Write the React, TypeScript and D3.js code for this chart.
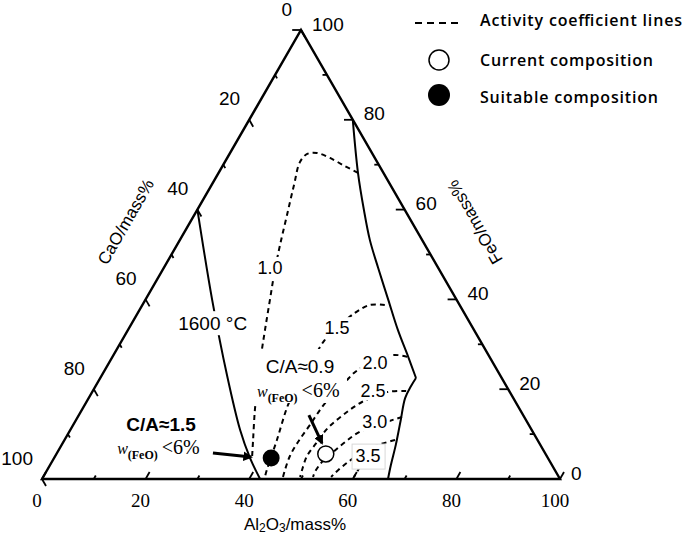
import React from 'react';
import * as d3 from 'd3';

// All compositions given as [Al2O3, FeO] in mass%; CaO = 100 - Al2O3 - FeO
type P = [number, number];

const tickValues = d3.range(0, 101, 10);
const labelValues = [0, 20, 40, 60, 80, 100];

const liquidusLeft: P[] = [[0, 60], [12.9, 39.9], [24.1, 23.2], [32.8, 10.9], [37.8, 4.7], [42.1, 0]];
const liquidusRightUpper: P[] = [[20, 80], [26.9, 68.2], [32.2, 59.9], [36.7, 53.2], [41.4, 47.0], [46.9, 39.9], [52.1, 33.2], [57.1, 27.2], [60.95, 22.5]];
const liquidusRightLower: P[] = [[60.95, 22.5], [60.9, 20.7], [61.1, 18.0], [62.7, 13.1], [64.5, 7.6], [65.8, 3.1], [66.8, 0]];

const gamma10: P[] = [[26.9, 68.2], [23.6, 69.7], [19.85, 71.5], [16.8, 72.6], [15.0, 72.4], [14.5, 70.6], [15.9, 65.5], [17.9, 58.8], [19.9, 52.1], [21.7, 46.5], [24.05, 39.9], [26.45, 33.2], [28.5, 27.6], [30.7, 22.05], [33.4, 15.4], [36.4, 8.7], [38.2, 4.7]];
const gamma15: P[] = [[46.8, 38.75], [43.9, 38.75], [41.9, 37.0], [40.15, 33.6], [39.1, 31.0], [39.0, 25.4], [38.95, 20.9], [39.25, 16.5], [41.0, 8.7], [42.4, 2.0], [42.8, 0.45]];
const gamma20: P[] = [[56.9, 27.2], [53.8, 27.6], [48.85, 24.3], [47.7, 21.6], [46.7, 18.9], [46.05, 16.0], [45.7, 12.0], [45.3, 8.24], [45.3, 5.12], [45.9, 2.0], [46.3, 0.45]];
const gamma25: P[] = [[60.5, 19.6], [57.1, 19.4], [53.2, 17.15], [51.0, 14.25], [49.5, 11.36], [49.0, 8.24], [48.6, 5.12], [49.2, 2.0], [49.6, 0.45]];
const gamma30: P[] = [[62.6, 13.8], [56.1, 10.5], [54.4, 8.24], [53.2, 6.0], [52.15, 3.8], [51.9, 1.56], [52.1, 0.45]];
const gamma35: P[] = [[63.8, 8.7], [59.9, 6.9], [57.2, 3.8], [55.9, 1.34], [55.6, 0.45]];
const gamma40: P[] = [[60.05, 2.67], [60.0, 0.45]];

const activityLines = [gamma10, gamma15, gamma20, gamma25, gamma30, gamma35, gamma40];
const activityLabels = ['1.0', '1.5', '2.0', '2.5', '3.0', '3.5'];
const activityLabelPos: P[] = [[20.5, 47.0], [40.15, 33.6], [51.4, 25.8], [54.1, 19.6], [57.9, 12.7], [60.4, 5.1]];

const currentComp: P = [52.0, 5.57];
const suitableComp: P = [41.9, 4.68];

const arrowLeft: P[] = [[30.1, 5.8], [37.9, 4.9]];
const arrowRight: P[] = [[44.4, 14.25], [50.05, 8.0]];

const tempLabelPos: P = [15.6, 34.7];
const note09Pos: P = [38.55, 22.5];
const note15Pos: P = [18.2, 9.6];

const legendItems = ['Activity coefficient lines', 'Current composition', 'Suitable composition'];
const legendWidths = [202, 173, 178];

const W = 685;
const H = 537;

const xS = d3.scaleLinear().domain([0, 100]).range([42, 560]);
const yS = d3.scaleLinear().domain([0, 100]).range([479, 30]);
const proj = (p: P): [number, number] => [xS(p[0] + p[1] / 2), yS(p[1])];

const smooth = d3.line<P>().x(d => proj(d)[0]).y(d => proj(d)[1]).curve(d3.curveCatmullRom.alpha(0.5));
const straight = d3.line<P>().x(d => proj(d)[0]).y(d => proj(d)[1]);

const SANS = '"Liberation Sans", Arial, sans-serif';
const SERIF = '"Liberation Serif", "Times New Roman", serif';

function WNote({ y, anchorX }: { y: number; anchorX: number }) {
  return (
    <text x={anchorX} y={y} fontFamily={SERIF} fill="#000">
      <tspan fontStyle="italic" fontSize={16}>w</tspan>
      <tspan fontWeight="bold" fontSize={12} dy={5}>(FeO)</tspan>
      <tspan fontSize={20} dy={-5} dx={4}>&lt;6%</tspan>
    </text>
  );
}

export default function App() {
  const A = proj([0, 0]);
  const B = proj([100, 0]);
  const C = proj([0, 100]);

  const ticks: JSX.Element[] = [];
  tickValues.forEach(t => {
    const len = t % 20 === 0 ? 8 : 4;
    const pb = proj([t, 0]);
    ticks.push(<line key={'b' + t} x1={pb[0]} y1={pb[1]} x2={pb[0] + 0.5 * len} y2={pb[1] - 0.866 * len} stroke="#000" strokeWidth={1.8} />);
    const pl = proj([0, 100 - t]);
    ticks.push(<line key={'l' + t} x1={pl[0]} y1={pl[1]} x2={pl[0] + 0.5 * len} y2={pl[1] + 0.866 * len} stroke="#000" strokeWidth={1.8} />);
    const pr = proj([100 - t, t]);
    ticks.push(<line key={'r' + t} x1={pr[0]} y1={pr[1]} x2={pr[0] - len * 1.1} y2={pr[1]} stroke="#000" strokeWidth={1.8} />);
  });

  const boxes = [
    { p: tempLabelPos, w: 78, h: 24 },
    { p: activityLabelPos[0], w: 28, h: 22 },
    { p: activityLabelPos[1], w: 28, h: 22 },
    { p: activityLabelPos[2], w: 30, h: 18 },
    { p: activityLabelPos[3], w: 28, h: 18 },
    { p: activityLabelPos[4], w: 30, h: 19 },
  ];

  const p09 = proj(note09Pos);
  const p15 = proj(note15Pos);
  const p35 = proj(activityLabelPos[5]);

  return (
    <svg width={W} height={H} style={{ position: 'absolute', left: 0, top: 0, background: '#fff' }}>
      <defs>
        <marker id="ah" viewBox="0 0 10 10" refX="8" refY="5" markerWidth="3.2" markerHeight="3.2" orient="auto">
          <path d="M0,0 L10,5 L0,10 z" fill="#000" />
        </marker>
      </defs>

      {/* activity coefficient lines */}
      {activityLines.map((l, i) => (
        <path key={'g' + i} d={smooth(l) || ''} fill="none" stroke="#000" strokeWidth={2} strokeDasharray="5,4" />
      ))}

      {/* liquidus lines */}
      <path d={smooth(liquidusLeft) || ''} fill="none" stroke="#000" strokeWidth={2} />
      <path d={smooth(liquidusRightUpper) || ''} fill="none" stroke="#000" strokeWidth={2} />
      <path d={smooth(liquidusRightLower) || ''} fill="none" stroke="#000" strokeWidth={2} />

      {/* label backgrounds */}
      {boxes.map((b, i) => {
        const p = proj(b.p);
        return <rect key={'bx' + i} x={p[0] - b.w / 2} y={p[1] - b.h / 2} width={b.w} height={b.h} fill="#fff" />;
      })}
      <rect x={p09[0] - 50} y={p09[1] - 29} width={97} height={54} fill="#fff" />
      <rect x={p35[0] - 16} y={p35[1] - 12} width={33} height={25} fill="#fff" stroke="#d8d8d8" strokeWidth={1} />

      {/* triangle */}
      <path d={`M${A[0]},${A[1]}L${B[0]},${B[1]}L${C[0]},${C[1]}Z`} fill="none" stroke="#000" strokeWidth={2.4} strokeLinejoin="miter" />
      {ticks}

      {/* axis labels */}
      {labelValues.map(t => {
        const p = proj([t, 0]);
        return <text key={'bl' + t} x={p[0] - 5} y={p[1] + 21} fontFamily={SERIF} fontSize={19} textAnchor="middle" dominantBaseline="central">{t}</text>;
      })}
      {labelValues.map(t => {
        const p = proj([0, 100 - t]);
        return <text key={'ll' + t} x={p[0] - 9} y={p[1] - 21} fontFamily={SANS} fontSize={19} textAnchor="end" dominantBaseline="central">{t}</text>;
      })}
      {labelValues.map(t => {
        const p = proj([100 - t, t]);
        return <text key={'rl' + t} x={p[0] + 11} y={p[1] - 6} fontFamily={SANS} fontSize={19} textAnchor="start" dominantBaseline="central">{t}</text>;
      })}

      {/* axis titles */}
      <text x={126} y={222} fontFamily={SANS} fontSize={17} textAnchor="middle" dominantBaseline="central" transform="rotate(-60 126 222)">CaO/mass%</text>
      <text x={475} y={222} fontFamily={SANS} fontSize={17} textAnchor="middle" dominantBaseline="central" transform="rotate(-120 475 222)">FeO/mass%</text>
      <text x={295} y={524} fontFamily={SANS} fontSize={17} textAnchor="middle" dominantBaseline="central">
        Al<tspan fontSize={12} dy={4}>2</tspan><tspan dy={-4}>O</tspan><tspan fontSize={12} dy={4}>3</tspan><tspan dy={-4}>/mass%</tspan>
      </text>

      {/* curve labels */}
      {(() => { const p = proj(tempLabelPos); return <text x={p[0]} y={p[1]} fontFamily={SANS} fontSize={19} textAnchor="middle" dominantBaseline="central">1600 °C</text>; })()}
      {activityLabels.map((s, i) => {
        const p = proj(activityLabelPos[i]);
        return <text key={'al' + i} x={p[0]} y={p[1]} fontFamily={SANS} fontSize={18} textAnchor="middle" dominantBaseline="central">{s}</text>;
      })}

      {/* notes */}
      <text x={p09[0]} y={p09[1] - 11} fontFamily={SANS} fontSize={19} textAnchor="middle" dominantBaseline="central">C/A≈0.9</text>
      <WNote y={p09[1] + 19} anchorX={p09[0] - 43} />
      <text x={p15[0]} y={p15[1] - 11} fontFamily={SANS} fontSize={19} fontWeight="bold" textAnchor="middle" dominantBaseline="central">C/A≈1.5</text>
      <WNote y={p15[1] + 18} anchorX={p15[0] - 44} />

      {/* arrows */}
      {[arrowLeft, arrowRight].map((a, i) => (
        <path key={'ar' + i} d={straight(a) || ''} stroke="#000" strokeWidth={3} fill="none" markerEnd="url(#ah)" />
      ))}

      {/* compositions */}
      {(() => { const p = proj(suitableComp); return <circle cx={p[0]} cy={p[1]} r={8.5} fill="#000" />; })()}
      {(() => { const p = proj(currentComp); return <circle cx={p[0]} cy={p[1]} r={8} fill="#fff" stroke="#000" strokeWidth={1.5} />; })()}

      {/* legend */}
      <line x1={415} y1={23} x2={458} y2={23} stroke="#000" strokeWidth={2} strokeDasharray="7,5" />
      <circle cx={439} cy={60} r={10} fill="#fff" stroke="#000" strokeWidth={1.5} />
      <circle cx={439} cy={95} r={11} fill="#000" />
      {legendItems.map((s, i) => (
        <text key={'lg' + i} x={480} y={[20, 60, 97][i]} fontFamily='"Open Sans", sans-serif' fontWeight={600} fontSize={16} textLength={legendWidths[i]} lengthAdjust="spacing" dominantBaseline="central">{s}</text>
      ))}
    </svg>
  );
}
